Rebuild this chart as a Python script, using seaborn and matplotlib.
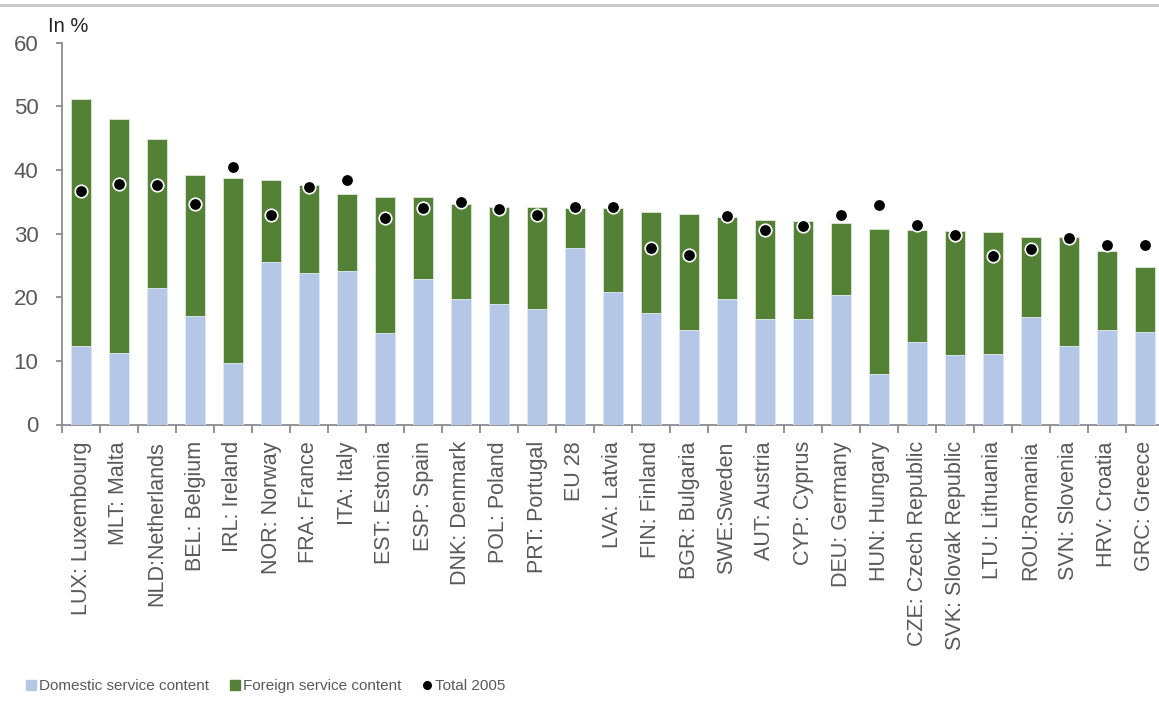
import matplotlib
matplotlib.use("Agg")
import matplotlib.pyplot as plt
from matplotlib.lines import Line2D
import seaborn as sns
import pandas as pd

# Service content of gross exports, by country
countries = [
    "LUX: Luxembourg", "MLT: Malta", "NLD:Netherlands", "BEL: Belgium", "IRL: Ireland",
    "NOR: Norway", "FRA: France", "ITA: Italy", "EST: Estonia", "ESP: Spain",
    "DNK: Denmark", "POL: Poland", "PRT: Portugal", "EU 28", "LVA: Latvia",
    "FIN: Finland", "BGR: Bulgaria", "SWE:Sweden", "AUT: Austria", "CYP: Cyprus",
    "DEU: Germany", "HUN: Hungary", "CZE: Czech Republic", "SVK: Slovak Republic",
    "LTU: Lithuania", "ROU:Romania", "SVN: Slovenia", "HRV: Croatia", "GRC: Greece",
]
domestic = [12.4, 11.3, 21.5, 17.0, 9.7, 25.6, 23.8, 24.2, 14.4, 22.9,
            19.8, 19.0, 18.1, 27.8, 20.9, 17.6, 14.8, 19.7, 16.6, 16.6,
            20.3, 8.0, 12.9, 11.0, 11.1, 16.9, 12.4, 14.9, 14.6]
foreign = [38.7, 36.7, 23.3, 22.2, 29.0, 12.8, 13.8, 12.0, 21.3, 12.8,
           14.8, 15.2, 16.1, 6.3, 13.1, 15.8, 18.3, 12.9, 15.6, 15.4,
           11.3, 22.8, 17.7, 19.4, 19.1, 12.6, 17.0, 12.4, 10.2]
total_2005 = [36.7, 37.8, 37.7, 34.7, 40.5, 32.9, 37.3, 38.4, 32.5, 34.1,
              34.9, 33.9, 32.9, 34.2, 34.2, 27.7, 26.6, 32.7, 30.6, 31.2,
              33.0, 34.5, 31.3, 29.8, 26.5, 27.6, 29.3, 28.2, 28.2]
y_ticks = [0, 10, 20, 30, 40, 50, 60]

df = pd.DataFrame({"country": countries, "domestic": domestic,
                   "foreign": foreign, "total_2005": total_2005})
df["total"] = df["domestic"] + df["foreign"]

BLUE = "#B4C7E7"
GREEN = "#538135"
GREY = "#595959"
AXIS = "#8C8C8C"

sns.set_theme(style="white")
plt.rcParams["font.family"] = ["Liberation Sans", "DejaVu Sans"]

fig = plt.figure(figsize=(11.59, 7.06), dpi=100)
ax = fig.add_axes([62 / 1159, 1 - 424.5 / 706, 1102 / 1159, 381.8 / 706])

# stacked bars: full height in green, domestic part in blue on top of it
sns.barplot(data=df, x="country", y="total", color=GREEN, width=0.55,
            saturation=1, edgecolor="#dfe8d8", linewidth=0.6, ax=ax, zorder=2)
sns.barplot(data=df, x="country", y="domestic", color=BLUE, width=0.55,
            saturation=1, edgecolor="#e4ecf7", linewidth=0.6, ax=ax, zorder=3)
sns.stripplot(data=df, x="country", y="total_2005", jitter=False, color="black",
              size=9, edgecolor="white", linewidth=1.2, ax=ax, zorder=4)

ax.set_xlim(-0.5, len(countries) - 0.5)
ax.set_ylim(0, 60)
ax.set_yticks(y_ticks)
ax.set_xlabel("")
ax.set_ylabel("")

for side in ("top", "right"):
    ax.spines[side].set_visible(False)
for side in ("left", "bottom"):
    ax.spines[side].set_color(AXIS)
    ax.spines[side].set_linewidth(1.3)

ax.tick_params(axis="y", which="major", direction="out", length=4, width=1.3,
               color=AXIS, labelcolor=GREY, labelsize=16, pad=13, left=True)
ax.tick_params(axis="x", which="both", bottom=False, labelcolor=GREY,
               labelsize=15.5, pad=6)
ax.set_xticks(range(len(countries)))
ax.set_xticklabels(countries, rotation=90, ha="center", va="top")
# tick marks between categories
ax.set_xticks([i + 0.5 for i in range(-1, len(countries))], minor=True)
ax.tick_params(axis="x", which="minor", bottom=True, direction="out",
               length=6, width=1.3, color=AXIS)

fig.text(48 / 1159, 1 - 27 / 706, "In %", fontsize=14.5, va="center", ha="left",
         color="#222222")

# thin rule across the top of the figure
fig.add_artist(Line2D([0, 1], [1 - 4.5 / 706, 1 - 4.5 / 706],
                      color="#c8c8c8", linewidth=2.2))

handles = [
    Line2D([], [], marker="s", linestyle="none", markersize=7,
           markerfacecolor=BLUE, markeredgecolor=BLUE),
    Line2D([], [], marker="s", linestyle="none", markersize=7,
           markerfacecolor=GREEN, markeredgecolor=GREEN),
    Line2D([], [], marker="o", linestyle="none", markersize=5.5,
           markerfacecolor="black", markeredgecolor="black"),
]
labels = ["Domestic service content", "Foreign service content", "Total 2005"]
fig.legend(handles, labels, loc="center left",
           bbox_to_anchor=(13 / 1159, 1 - 686 / 706), ncol=3, frameon=False,
           fontsize=11, handlelength=0.6, handletextpad=0.2,
           columnspacing=1.4, labelcolor=GREY)

fig.savefig("out.png", dpi=100)
